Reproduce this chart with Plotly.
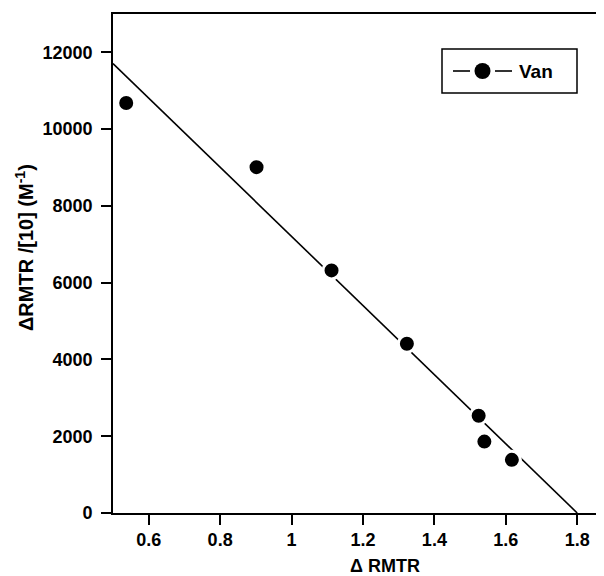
import plotly.graph_objects as go

# Data
delta_rmtr = [0.537, 0.902, 1.112, 1.323, 1.524, 1.540, 1.617]
ratio = [10680, 9010, 6320, 4410, 2535, 1860, 1385]

# Fitted line endpoints
fit_x = [0.5, 1.8]
fit_y = [11710, 0]

x_ticks = [0.6, 0.8, 1, 1.2, 1.4, 1.6, 1.8]
y_ticks = [0, 2000, 4000, 6000, 8000, 10000, 12000]
legend_name = "Van"

font_family = "Liberation Sans, Arial, Helvetica, sans-serif"

# figure geometry (page has an 8px body margin)
W, H = 596, 568
L, T, B = 105, 6, 63
PW, PH = W - L, H - T - B


def px(xf):
    return (xf - L) / PW


def py(yf):
    return (T + PH - yf) / PH


fig = go.Figure()

fig.add_trace(go.Scatter(
    x=fit_x, y=fit_y, mode="lines",
    line=dict(color="black", width=1.6),
    showlegend=False, hoverinfo="skip"))

fig.add_trace(go.Scatter(
    x=delta_rmtr, y=ratio, mode="markers", name=legend_name,
    marker=dict(color="black", size=17, line=dict(color="white", width=3)),
    showlegend=False, cliponaxis=False))

fig.update_layout(
    width=W, height=H,
    margin=dict(l=L, r=0, t=T, b=B),
    paper_bgcolor="white", plot_bgcolor="white",
    font=dict(family=font_family, size=18, color="black", weight="bold"),
    showlegend=False,
)

fig.update_xaxes(
    range=[0.5, 1.875], tickvals=x_ticks,
    ticktext=[str(v) for v in x_ticks],
    showgrid=False, zeroline=False,
    showline=True, linecolor="black", linewidth=1.6, mirror=True,
    ticks="outside", ticklen=10, tickwidth=1.6, tickcolor="black",
    tickfont=dict(size=18, weight="bold"))

fig.update_yaxes(
    range=[0, 13000], tickvals=y_ticks,
    ticktext=[str(v) for v in y_ticks],
    showgrid=False, zeroline=False,
    showline=True, linecolor="black", linewidth=1.6, mirror=False,
    ticks="outside", ticklen=10, tickwidth=1.6, tickcolor="black",
    ticklabelstandoff=5,
    tickfont=dict(size=18, weight="bold"))

# axis titles
fig.add_annotation(text="Δ RMTR", xref="paper", yref="paper",
                   x=px(377), y=py(558), xanchor="center", yanchor="middle",
                   showarrow=False, font=dict(size=18, weight="bold"))
fig.add_annotation(text="ΔRMTR /[10] (M<sup>-1</sup>)", xref="paper", yref="paper",
                   x=px(16), y=py(240), xanchor="center", yanchor="middle",
                   textangle=-90, showarrow=False, font=dict(size=20, weight="bold"))

# legend box drawn manually
fig.add_shape(type="rect", xref="paper", yref="paper",
              x0=px(434), x1=px(569), y0=py(85), y1=py(41),
              line=dict(color="black", width=1.5), fillcolor="white", layer="above")
ly = py(63)
fig.add_shape(type="line", xref="paper", yref="paper",
              x0=px(445), x1=px(462), y0=ly, y1=ly, line=dict(color="black", width=1.6))
fig.add_shape(type="line", xref="paper", yref="paper",
              x0=px(487), x1=px(504), y0=ly, y1=ly, line=dict(color="black", width=1.6))
fig.add_shape(type="circle", xref="paper", yref="paper",
              x0=px(466.5), x1=px(482.5), y0=py(71), y1=py(55),
              line=dict(color="black", width=0), fillcolor="black")
fig.add_annotation(text=legend_name, xref="paper", yref="paper",
                   x=px(509), y=ly, xanchor="left", yanchor="middle",
                   showarrow=False, font=dict(size=19, weight="bold"))

fig.write_html("out.html")
